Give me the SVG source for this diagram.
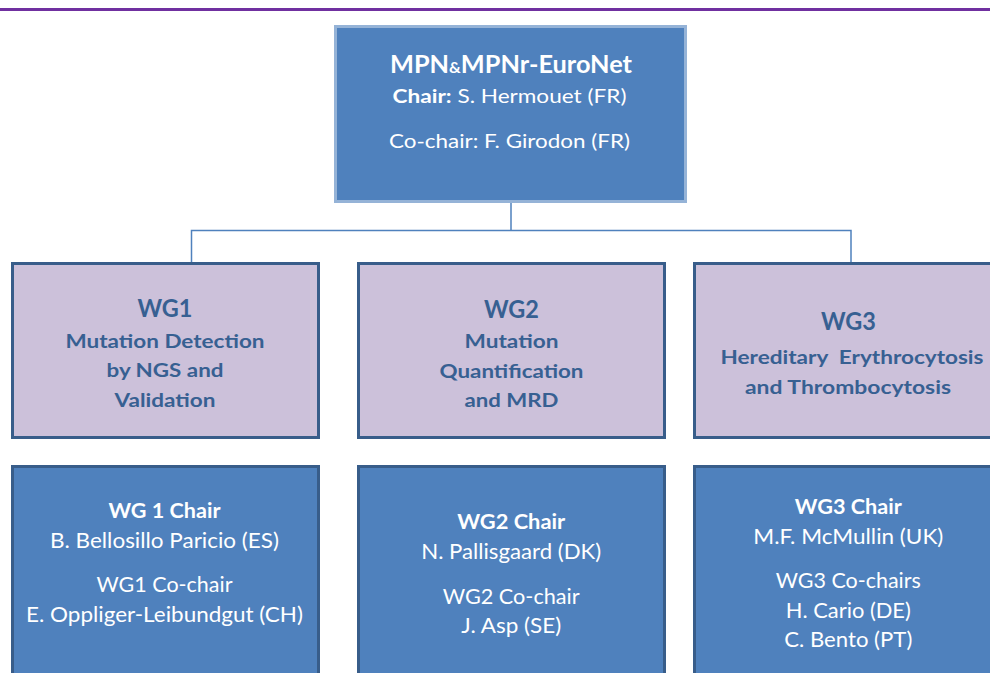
<svg xmlns="http://www.w3.org/2000/svg" width="990" height="673" viewBox="0 0 990 673">
<style>
.t{font-family:Lato,"Open Sans","Liberation Sans",sans-serif;text-anchor:middle}
.w{fill:#ffffff}
.d{fill:#376092;font-weight:bold}
.b{font-weight:bold}
.top{fill:#4F81BD;stroke:#95B3D7;stroke-width:3}
.wg{fill:#CCC1DA;stroke:#385D8A;stroke-width:3}
.ch{fill:#4F81BD;stroke:#385D8A;stroke-width:3}
.con{fill:none;stroke:#4F81BD;stroke-width:1.5}
</style>
<rect x="0" y="8" width="990" height="3" fill="#7030A0"/>
<g id="connectors">
<path class="con" d="M511,202 V230.5 M191.5,262 V230.5 H851 V262"/>
</g>
<g id="euronet">
<rect class="top" x="335.5" y="26.5" width="350" height="175"/>
<text class="t w b" x="511" y="73" font-size="25" textLength="242" lengthAdjust="spacingAndGlyphs">MPN<tspan font-size="16">&amp;</tspan>MPNr-EuroNet</text>
<text class="t w" x="509.5" y="103" font-size="19.5" textLength="234" lengthAdjust="spacingAndGlyphs"><tspan class="b">Chair:</tspan> S. Hermouet (FR)</text>
<text class="t w" x="509.5" y="147.5" font-size="19.5" textLength="241" lengthAdjust="spacingAndGlyphs">Co-chair: F. Girodon (FR)</text>
</g>
<g id="wg1">
<rect class="wg" x="12.5" y="263.5" width="306" height="174"/>
<text class="t d" x="165" y="317" font-size="25" textLength="55" lengthAdjust="spacingAndGlyphs">WG1</text>
<text class="t d" x="165" y="347.5" font-size="19" textLength="199" lengthAdjust="spacingAndGlyphs">Mutation Detection</text>
<text class="t d" x="165" y="376.7" font-size="19" textLength="117" lengthAdjust="spacingAndGlyphs">by NGS and</text>
<text class="t d" x="165" y="406.7" font-size="19" textLength="101" lengthAdjust="spacingAndGlyphs">Validation</text>
</g>
<g id="wg2">
<rect class="wg" x="358.5" y="263.5" width="306" height="174"/>
<text class="t d" x="511.5" y="317.7" font-size="25" textLength="55" lengthAdjust="spacingAndGlyphs">WG2</text>
<text class="t d" x="511.5" y="347.7" font-size="19" textLength="94" lengthAdjust="spacingAndGlyphs">Mutation</text>
<text class="t d" x="511.5" y="377.7" font-size="19" textLength="144" lengthAdjust="spacingAndGlyphs">Quantification</text>
<text class="t d" x="511.5" y="406.7" font-size="19" textLength="94" lengthAdjust="spacingAndGlyphs">and MRD</text>
</g>
<g id="wg3">
<rect class="wg" x="694.5" y="263.5" width="320" height="174"/>
<text class="t d" x="848.5" y="330" font-size="25" textLength="55" lengthAdjust="spacingAndGlyphs">WG3</text>
<text class="t d" x="852" y="364" font-size="19" textLength="263" lengthAdjust="spacingAndGlyphs" xml:space="preserve">Hereditary  Erythrocytosis</text>
<text class="t d" x="848" y="394" font-size="19" textLength="206" lengthAdjust="spacingAndGlyphs">and Thrombocytosis</text>
</g>
<g id="wg1-chairs">
<rect class="ch" x="12.5" y="466.5" width="306" height="230"/>
<text class="t w b" x="164.5" y="518.3" font-size="21" textLength="112" lengthAdjust="spacingAndGlyphs">WG 1 Chair</text>
<text class="t w" x="164.5" y="548.3" font-size="21" textLength="229" lengthAdjust="spacingAndGlyphs">B. Bellosillo Paricio (ES)</text>
<text class="t w" x="164.5" y="591.7" font-size="21" textLength="136" lengthAdjust="spacingAndGlyphs">WG1 Co-chair</text>
<text class="t w" x="164.5" y="621.7" font-size="21" textLength="277" lengthAdjust="spacingAndGlyphs">E. Oppliger-Leibundgut (CH)</text>
</g>
<g id="wg2-chairs">
<rect class="ch" x="358.5" y="466.5" width="306" height="230"/>
<text class="t w b" x="511.2" y="529.3" font-size="21" textLength="108" lengthAdjust="spacingAndGlyphs">WG2 Chair</text>
<text class="t w" x="511.2" y="559.3" font-size="21" textLength="180" lengthAdjust="spacingAndGlyphs">N. Pallisgaard (DK)</text>
<text class="t w" x="511.2" y="604" font-size="21" textLength="137" lengthAdjust="spacingAndGlyphs">WG2 Co-chair</text>
<text class="t w" x="511.2" y="633.3" font-size="21" textLength="100" lengthAdjust="spacingAndGlyphs">J. Asp (SE)</text>
</g>
<g id="wg3-chairs">
<rect class="ch" x="694.5" y="466.5" width="320" height="230"/>
<text class="t w b" x="848.3" y="514" font-size="21" textLength="107" lengthAdjust="spacingAndGlyphs">WG3 Chair</text>
<text class="t w" x="848.3" y="544" font-size="21" textLength="190" lengthAdjust="spacingAndGlyphs">M.F. McMullin (UK)</text>
<text class="t w" x="848.3" y="588.3" font-size="21" textLength="145" lengthAdjust="spacingAndGlyphs">WG3 Co-chairs</text>
<text class="t w" x="848.3" y="618.3" font-size="21" textLength="125" lengthAdjust="spacingAndGlyphs">H. Cario (DE)</text>
<text class="t w" x="848.3" y="647.3" font-size="21" textLength="128" lengthAdjust="spacingAndGlyphs">C. Bento (PT)</text>
</g>
</svg>
